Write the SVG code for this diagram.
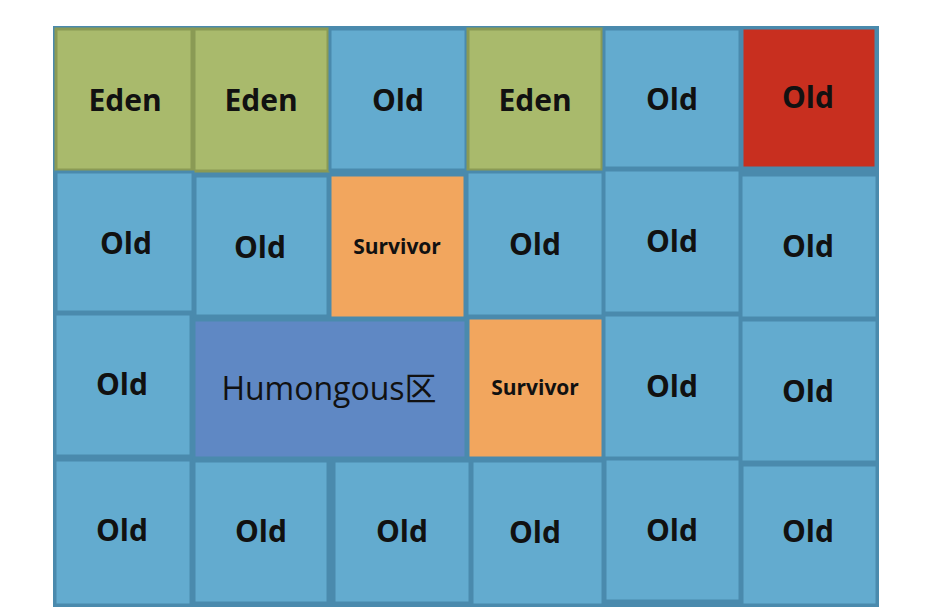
<svg xmlns="http://www.w3.org/2000/svg" width="928" height="612" viewBox="0 0 928 612">
<style>
.c{stroke-width:3}
.eden{fill:#A9BA6C;stroke:#8A9A55}
.old{fill:#63ABCF;stroke:#4A8AAD}
.red{fill:#C82F1F;stroke:#4A8AAD}
.surv{fill:#F2A65E;stroke:#4A8AAD}
.hum{fill:#5F88C4;stroke:#4A8AAD}
text{font-family:"Open Sans","Noto Sans","Noto Sans CJK SC",sans-serif;fill:#111;text-anchor:middle}
.b{font-weight:bold;font-size:30px}
.s{font-weight:bold;font-size:21px}
.h{font-size:32px}
</style>
<rect x="53" y="26" width="826" height="581" fill="#4A8AAD"/>
<g id="r1c1"><rect class="c eden" x="56" y="29" width="136" height="141"/><text class="b" x="125" y="111">Eden</text></g>
<g id="r1c2"><rect class="c eden" x="194" y="29" width="134" height="142"/><text class="b" x="261" y="111">Eden</text></g>
<g id="r1c3"><rect class="c old" x="330" y="29" width="136" height="141"/><text class="b" x="398" y="111">Old</text></g>
<g id="r1c4"><rect class="c eden" x="468" y="29" width="134" height="141"/><text class="b" x="535" y="111">Eden</text></g>
<g id="r1c5"><rect class="c old" x="604" y="29" width="136" height="139"/><text class="b" x="672" y="110">Old</text></g>
<g id="r1c6"><rect class="c red" x="742" y="28" width="134" height="140"/><text class="b" x="808" y="108">Old</text></g>
<g id="r2c1"><rect class="c old" x="56" y="172" width="137" height="140"/><text class="b" x="126" y="254">Old</text></g>
<g id="r2c2"><rect class="c old" x="195" y="176" width="133" height="140"/><text class="b" x="260" y="258">Old</text></g>
<g id="r2c3"><rect class="c surv" x="330" y="175" width="135" height="143"/><text class="s" x="397" y="254">Survivor</text></g>
<g id="r2c4"><rect class="c old" x="467" y="172" width="136" height="144"/><text class="b" x="535" y="255">Old</text></g>
<g id="r2c5"><rect class="c old" x="604" y="170" width="136" height="143"/><text class="b" x="672" y="252">Old</text></g>
<g id="r2c6"><rect class="c old" x="741" y="175" width="136" height="143"/><text class="b" x="808" y="257">Old</text></g>
<g id="r3c1"><rect class="c old" x="55" y="314" width="136" height="142"/><text class="b" x="122" y="395">Old</text></g>
<g id="r3c2"><rect class="c hum" x="194" y="320" width="272" height="138"/><text class="h" x="329" y="400">Humongous区</text></g>
<g id="r3c4"><rect class="c surv" x="468" y="318" width="135" height="140"/><text class="s" x="535" y="395">Survivor</text></g>
<g id="r3c5"><rect class="c old" x="604" y="315" width="136" height="143"/><text class="b" x="672" y="397">Old</text></g>
<g id="r3c6"><rect class="c old" x="741" y="320" width="136" height="142"/><text class="b" x="808" y="402">Old</text></g>
<g id="r4c1"><rect class="c old" x="55" y="460" width="136" height="145"/><text class="b" x="122" y="541">Old</text></g>
<g id="r4c2"><rect class="c old" x="194" y="461" width="134" height="142"/><text class="b" x="261" y="542">Old</text></g>
<g id="r4c3"><rect class="c old" x="334" y="461" width="136" height="142"/><text class="b" x="402" y="542">Old</text></g>
<g id="r4c4"><rect class="c old" x="472" y="461" width="131" height="144"/><text class="b" x="535" y="543">Old</text></g>
<g id="r4c5"><rect class="c old" x="605" y="459" width="135" height="142"/><text class="b" x="672" y="541">Old</text></g>
<g id="r4c6"><rect class="c old" x="742" y="465" width="135" height="140"/><text class="b" x="808" y="542">Old</text></g>
<g id="connectors"/>
</svg>
